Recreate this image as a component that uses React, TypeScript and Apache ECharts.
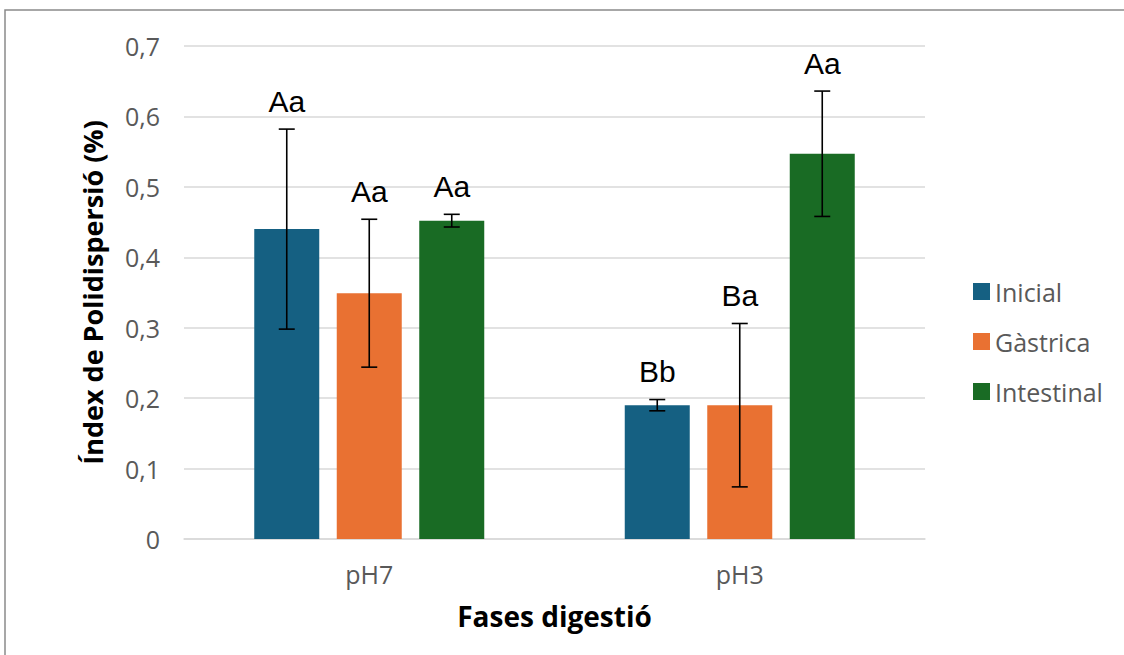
import React, { useEffect, useRef } from "react";
import * as echarts from "echarts";

const categories = ["pH7", "pH3"];
const seriesNames = ["Inicial", "Gàstrica", "Intestinal"];
const inicial = [0.44, 0.19];
const inicialErr = [0.142, 0.008];
const inicialLabels = ["Aa", "Bb"];
const gastrica = [0.349, 0.19];
const gastricaErr = [0.105, 0.116];
const gastricaLabels = ["Aa", "Ba"];
const intestinal = [0.452, 0.547];
const intestinalErr = [0.009, 0.089];
const intestinalLabels = ["Aa", "Aa"];
const yTicks = [0, 0.1, 0.2, 0.3, 0.4, 0.5, 0.6, 0.7];

const colors = ["#156082", "#E97132", "#196B24"];
const BAR_W = 65;
const BAR_GAP = 17.5;
const FONT = "'Open Sans', sans-serif";

export default function App() {
  const ref = useRef<HTMLDivElement>(null);
  useEffect(() => {
    if (!ref.current) return;
    const chart = echarts.init(ref.current, null, { renderer: "svg" });
    const values = [inicial, gastrica, intestinal];
    const errs = [inicialErr, gastricaErr, intestinalErr];
    const labels = [inicialLabels, gastricaLabels, intestinalLabels];

    const barSeries = seriesNames.map((name, i) => ({
      name,
      type: "bar",
      data: values[i],
      barWidth: BAR_W,
      barGap: (BAR_GAP / BAR_W) * 100 + "%",
      itemStyle: { color: colors[i] },
      z: 2,
    }));

    const errSeries = seriesNames.map((name, i) => ({
      type: "custom",
      name: name + "_err",
      data: categories.map((c, k) => [k, values[i][k], errs[i][k]]),
      z: 5,
      silent: true,
      renderItem: (params: any, api: any) => {
        const k = api.value(0);
        const v = api.value(1);
        const e = api.value(2);
        const lab = labels[i][k];
        const off = (i - 1) * (BAR_W + BAR_GAP);
        const top = api.coord([k, v + e]);
        const bot = api.coord([k, v - e]);
        const x = top[0] + off;
        const cap = 8;
        const st = { stroke: "#000", lineWidth: 1.6 };
        return {
          type: "group",
          children: [
            { type: "line", shape: { x1: x, y1: top[1], x2: x, y2: bot[1] }, style: st },
            { type: "line", shape: { x1: x - cap, y1: top[1], x2: x + cap, y2: top[1] }, style: st },
            { type: "line", shape: { x1: x - cap, y1: bot[1], x2: x + cap, y2: bot[1] }, style: st },
            {
              type: "text",
              x: x,
              y: top[1] - 28,
              style: {
                text: lab,
                fill: "#000",
                font: "30px 'Liberation Sans', Arial, sans-serif",
                textAlign: "center",
                textVerticalAlign: "middle",
              },
            },
          ],
        };
      },
    }));

    chart.setOption({
      animation: false,
      backgroundColor: "#fff",
      graphic: [
        {
          type: "rect",
          shape: { x: 5, y: 10, width: 1200, height: 700 },
          style: { fill: "none", stroke: "#8a8a8a", lineWidth: 1.5 },
          z: 0,
        },
      ],
      grid: { left: 184, right: 199, top: 46, bottom: 116 },
      legend: {
        data: seriesNames,
        orient: "vertical",
        left: 968,
        top: 274,
        itemWidth: 17,
        itemHeight: 17,
        itemGap: 25,
        icon: "rect",
        textStyle: { color: "#595959", fontSize: 25, fontFamily: FONT },
      },
      xAxis: {
        type: "category",
        data: categories,
        name: "Fases digestió",
        nameLocation: "middle",
        nameGap: 63,
        nameTextStyle: { color: "#000", fontSize: 28, fontWeight: "bold", fontFamily: FONT },
        axisLine: { show: true, lineStyle: { color: "#d9d9d9", width: 1.5 } },
        axisTick: { show: false },
        axisLabel: { color: "#595959", fontSize: 25, margin: 22, fontFamily: FONT },
      },
      yAxis: {
        type: "value",
        min: 0,
        max: 0.7,
        interval: 0.1,
        name: "Índex de Polidispersió (%)",
        nameLocation: "middle",
        nameGap: 78,
        nameTextStyle: { color: "#000", fontSize: 27, fontWeight: "bold", fontFamily: FONT },
        axisLine: { show: false },
        axisTick: { show: false },
        splitLine: { lineStyle: { color: "#d9d9d9", width: 1.5 } },
        axisLabel: {
          color: "#595959",
          fontSize: 25,
          margin: 24,
          fontFamily: FONT,
          formatter: (v: number) => {
            const t = yTicks.find((y) => Math.abs(y - v) < 1e-9);
            const n = t === undefined ? v : t;
            return n === 0 ? "0" : n.toFixed(1).replace(".", ",");
          },
        },
      },
      series: [...barSeries, ...errSeries],
    });
    return () => chart.dispose();
  }, []);
  return (
    <div
      ref={ref}
      style={{ position: "fixed", left: 0, top: 0, width: 1124, height: 655, background: "#fff" }}
    />
  );
}
